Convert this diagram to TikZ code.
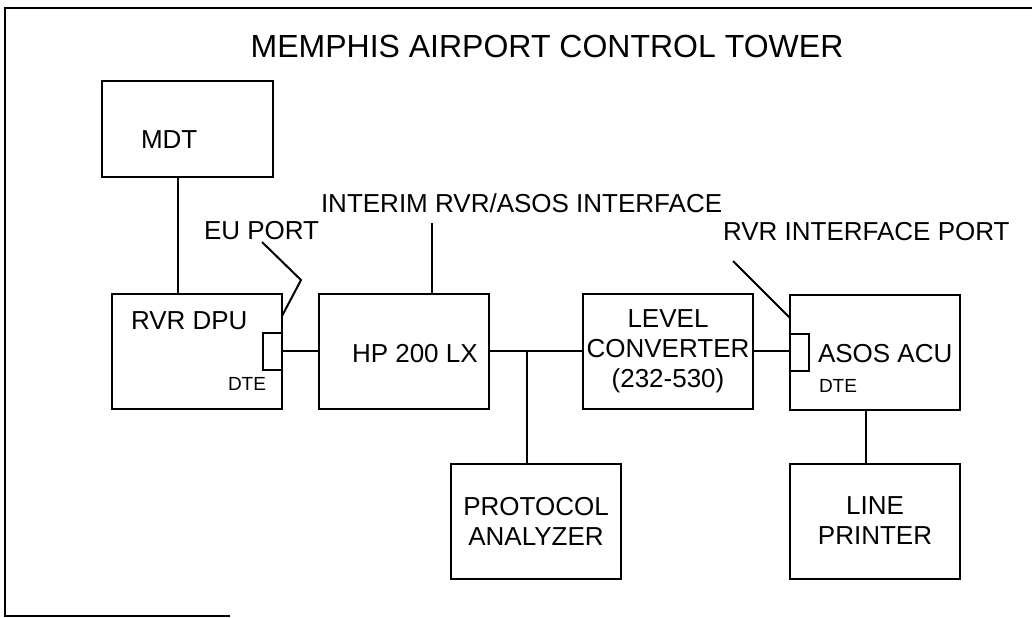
\documentclass[tikz,border=0pt]{standalone}
\usepackage{fontspec}
\setmainfont{Liberation Sans}
\usepackage{tikz}

\newcommand{\lblfont}{\fontsize{13}{15}\selectfont}
\newcommand{\dtefont}{\fontsize{9.5}{11}\selectfont}

\begin{document}
\begin{tikzpicture}[x=0.5pt, y=-0.5pt, line width=1pt,
    box/.style={draw, line width=1pt, minimum width=85pt, minimum height=57.5pt,
        inner sep=0pt, font=\lblfont, align=center},
    portbox/.style={draw, line width=1pt, minimum width=9.5pt, minimum height=18.5pt, inner sep=0pt},
    lbl/.style={font=\lblfont, inner sep=0pt, anchor=base west},
    dte/.style={font=\dtefont, inner sep=0pt, anchor=base west}]
    \useasboundingbox (0,0) rectangle (1032,617);

    % Frame (open on the right)
    \draw[line width=1.1pt] (230,616) -- (5,616) -- (5,8) -- (1032,8);
    \node[font=\fontsize{16}{18}\selectfont, inner sep=0pt, anchor=base] (title) at (547,57)
        {MEMPHIS AIRPORT CONTROL TOWER};

    % Boxes
    \node[box, minimum width=85.5pt, minimum height=48pt] (mdt) at (187.5,129) {};
    \node[lbl] (mdt-txt) at (140,148) {MDT};

    \node[box] (rvr) at (196.5,351) {};
    \node[lbl] (rvr-txt) at (130,329) {RVR DPU};
    \node[portbox, anchor=east] (rvrport) at (rvr.east) {};
    \node[dte] (rvr-dte) at (227,390) {DTE};

    \node[box] (hp) at (404,351) {};
    \node[lbl] (hp-txt) at (351,362) {HP 200 LX};

    \node[box] (level) at (668,351) {LEVEL\\CONVERTER\\(232-530)};

    \node[box] (asos) at (875,352) {};
    \node[lbl] (asos-txt) at (817,362) {ASOS ACU};
    \node[portbox, anchor=west] (asosport) at (asos.west) {};
    \node[dte] (asos-dte) at (818,392) {DTE};

    \node[box] (protocol) at (536,521) {PROTOCOL\\ANALYZER};
    \node[box] (printer) at (875,521) {LINE\\PRINTER};

    % Labels above the boxes
    \node[lbl] (eu) at (203,239) {EU PORT};
    \node[lbl] (interim) at (320,212) {INTERIM RVR/ASOS INTERFACE};
    \node[lbl] (rvrif) at (722,240) {RVR INTERFACE PORT};

    % Connectors
    \coordinate (mdtline) at (178,0);
    \coordinate (junc) at (527,351);
    \coordinate (hpline) at (432,223);
    \coordinate (prnline) at (866,0);
    \draw (mdt.south -| mdtline) -- (rvr.north -| mdtline);
    \draw (rvrport.east) -- (rvrport.east -| hp.west);
    \draw (hp.east) -- (level.west);
    \draw (junc) -- (junc |- protocol.north);
    \draw (level.east) -- (level.east -| asosport.west);
    \draw (asos.south -| prnline) -- (printer.north -| prnline);
    \draw (hpline) -- (hpline |- hp.north);

    % Leaders to the ports
    \coordinate (eu-a) at (262,242);
    \coordinate (eu-b) at (301,280);
    \coordinate (eu-c) at (282,316);
    \draw (eu-a) -- (eu-b) -- (eu-c);
    \coordinate (rvrif-a) at (733,261);
    \coordinate (rvrif-b) at (790,318);
    \draw (rvrif-a) -- (rvrif-b);
\end{tikzpicture}
\end{document}
